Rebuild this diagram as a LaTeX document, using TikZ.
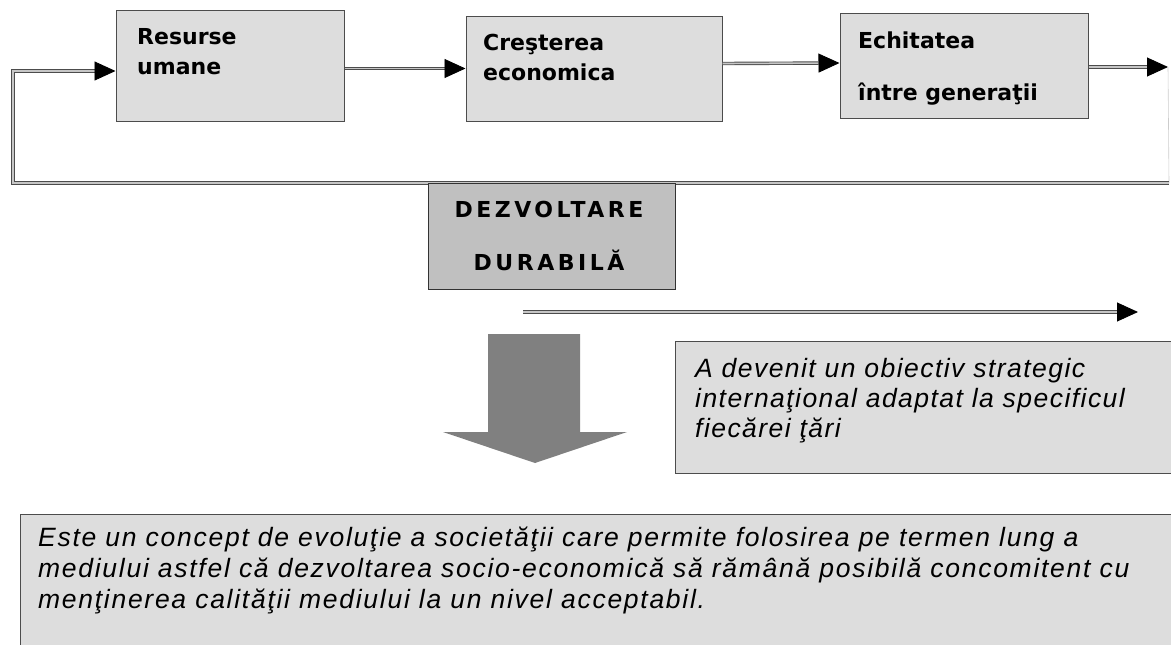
\documentclass[tikz,border=0pt]{standalone}
\usepackage{fontspec}
\usetikzlibrary{arrows.meta}

\newfontfamily\lblfont{DejaVu Sans}
\newfontfamily\keyfont{DejaVu Sans}[LetterSpace=16]
\newfontfamily\goalfont{Liberation Sans}[LetterSpace=5.5]
\newfontfamily\defnfont{Liberation Sans}[LetterSpace=6.5]

\definecolor{boxgray}{RGB}{221,221,221}
\definecolor{keygray}{RGB}{192,192,192}
\definecolor{arrowgray}{RGB}{128,128,128}

\begin{document}
\begin{tikzpicture}[x=1pt,y=-1pt]

\tikzset{
    box/.style={draw=black!70, line width=1pt, fill=boxgray, inner sep=0pt},
    keybox/.style={draw=black!80, line width=1pt, fill=keygray, inner sep=0pt},
    keytext/.style={inner sep=0pt, align=center, anchor=base,
        font=\keyfont\bfseries\fontsize{22}{53}\selectfont},
    lbl/.style={inner sep=0pt, align=left, anchor=base west,
        font=\lblfont\bfseries\fontsize{22}{30}\selectfont},
    goaltext/.style={inner sep=0pt, align=left, anchor=base west,
        font=\goalfont\itshape\fontsize{26.5}{30}\selectfont},
    defntext/.style={inner sep=0pt, align=left, anchor=base west,
        font=\defnfont\itshape\fontsize{26.5}{31}\selectfont},
    link/.style={draw=black!70, double=gray!45, line width=0.9pt, double distance=1.6pt},
    linkarrow/.style={link, -{Triangle[length=21pt,width=19pt,color=black]}},
    faint/.style={draw=gray!40, line width=0.6pt}
}

\useasboundingbox (0,0) rectangle (1171,645);

%top row
\node[box, minimum width=228pt, minimum height=111pt] (res) at (230,65.5) {};
\node[lbl] (resT) at (137,74) {Resurse\\umane};

\node[box, minimum width=256pt, minimum height=105pt] (cre) at (594,68.5) {};
\node[lbl] (creT) at (483,80) {Creşterea\\economica};

\node[box, minimum width=248pt, minimum height=105pt] (ech) at (964,65.5) {};
\node[lbl] (echT) at (858,100) {Echitatea\\[22pt]între generaţii};

\draw[linkarrow] ([yshift=-3pt]res.east) -- (cre.west);
\draw[linkarrow] ([yshift=5pt]cre.east) -- ([yshift=2.5pt]ech.west);

%feedback loop
\coordinate (outR) at (1168,67);
\coordinate (loopR) at (1169,183);
\coordinate (loopL) at (13,183);
\draw[linkarrow] (ech.east |- outR) -- (outR);
\draw[faint] (outR) -- (loopR);
\draw[linkarrow] (loopR) -- (loopL) |- ([yshift=-5.5pt]res.west);

%dezvoltare durabila
\node[keybox, minimum width=247pt, minimum height=106pt] (dd) at (551.5,236) {};
\node[keytext] (ddT) at (549,270) {DEZVOLTARE\\DURABILĂ};

%long arrow
\coordinate (arrS) at (523,312);
\coordinate (arrE) at (1138,312);
\draw[linkarrow] (arrS) -- (arrE);

%big down arrow
\fill[arrowgray] (488,334) -- (580,334) -- (580,432) -- (627,432) -- (535,463)
    -- (443,432) -- (488,432) -- cycle;

%goal box
\node[box, anchor=north west, minimum width=520pt, minimum height=132pt] (goal) at (675,341) {};
\node[goaltext] (goalT) at (695,437) {A devenit un obiectiv strategic\\internaţional adaptat la specificul\\fiecărei ţări};

%definition box
\node[box, anchor=north west, minimum width=1170pt, minimum height=150pt] (defn) at (20,514) {};
\node[defntext] (defnT) at (38,608) {Este un concept de evoluţie a societăţii care permite folosirea pe termen lung a\\mediului astfel că dezvoltarea socio-economică să rămână posibilă concomitent cu\\menţinerea calităţii mediului la un nivel acceptabil.};

\end{tikzpicture}
\end{document}
